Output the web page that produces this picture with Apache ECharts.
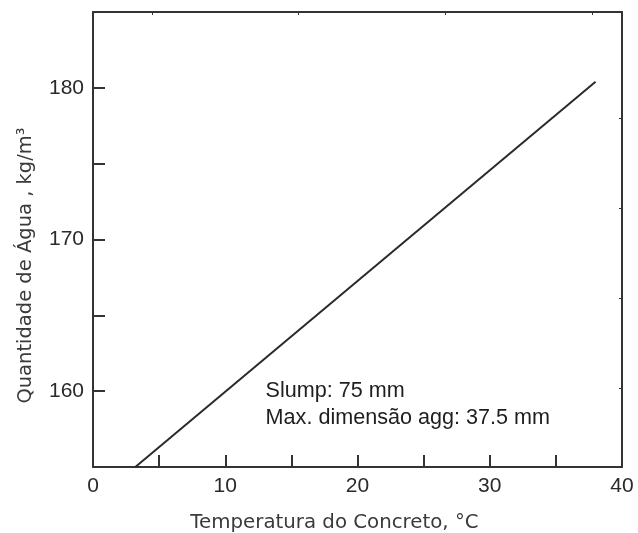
<!DOCTYPE html>
<html>
<head>
<meta charset="utf-8">
<script src="https://cdn.jsdelivr.net/npm/echarts@6/dist/echarts.min.js"></script>
<style>html,body{margin:0;padding:0;background:#fff;}#c{width:638px;height:533px;}</style>
</head>
<body>
<div id="c"></div>
<script>
// Data
const temperatureC = [3.2, 38.0];
const waterKgM3 = [155, 180.4];
const xTickLabels = [0, 10, 20, 30, 40];
const yTickLabels = [160, 170, 180];
const topTicksF = [40, 60, 80, 100];       // secondary (°F) ticks on top axis
const rightTicksLb = [270, 280, 290, 300]; // secondary (lb/yd³) ticks on right axis
const noteLines = ['Slump: 75 mm', 'Max. dimensão agg: 37.5 mm'];
const notePos = [13.05, 159.1];
const xTitle = 'Temperatura do Concreto, °C';
const yTitle = 'Quantidade de Água , kg/m³';

const xMin = 0, xMax = 40, yMin = 155, yMax = 185;
const c2f = c => c * 9 / 5 + 32;
const kg2lb = k => k * 1.6856;

const chart = echarts.init(document.getElementById('c'), null, {renderer: 'canvas'});
const axisColor = '#333';
const labelFont = {fontFamily: 'Liberation Sans, Arial, sans-serif', fontSize: 21, color: '#2a2a2a'};

chart.setOption({
  backgroundColor: '#fff',
  animation: false,
  grid: {left: 93, right: 16, top: 12, bottom: 66, containLabel: false, outerBoundsMode: 'none'},
  xAxis: [{
    type: 'value', min: xMin, max: xMax, interval: 5, position: 'bottom',
    axisLine: {show: true, lineStyle: {color: axisColor, width: 2}},
    axisTick: {show: true, inside: true, length: 12, lineStyle: {color: axisColor, width: 2}},
    splitLine: {show: false},
    axisLabel: Object.assign({
      margin: 9,
      formatter: v => xTickLabels.indexOf(v) >= 0 ? String(v) : ''
    }, labelFont),
    name: xTitle, nameLocation: 'middle', nameGap: 46,
    nameTextStyle: {fontFamily: 'DejaVu Sans, sans-serif', fontSize: 19.8, color: '#3a3a3a', padding: [0, 46, 0, 0]}
  }, {
    type: 'value', min: c2f(xMin), max: c2f(xMax), position: 'top',
    axisLine: {show: true, onZero: false, lineStyle: {color: axisColor, width: 2}},
    axisTick: {show: true, inside: true, length: 3, customValues: topTicksF, lineStyle: {color: axisColor, width: 1}},
    axisLabel: {show: false}, splitLine: {show: false}
  }],
  yAxis: [{
    type: 'value', min: yMin, max: yMax, interval: 5, position: 'left',
    axisLine: {show: true, lineStyle: {color: axisColor, width: 2}},
    axisTick: {show: true, inside: true, length: 12, lineStyle: {color: axisColor, width: 2}},
    splitLine: {show: false},
    axisLabel: Object.assign({
      margin: 9,
      formatter: v => yTickLabels.indexOf(v) >= 0 ? String(v) : ''
    }, labelFont),
    name: yTitle, nameLocation: 'middle', nameGap: 57,
    nameTextStyle: {fontFamily: 'DejaVu Sans, sans-serif', fontSize: 19.5, color: '#3a3a3a', padding: [0, 52, 0, 0]}
  }, {
    type: 'value', min: kg2lb(yMin), max: kg2lb(yMax), position: 'right',
    axisLine: {show: true, onZero: false, lineStyle: {color: axisColor, width: 2}},
    axisTick: {show: true, inside: true, length: 3, customValues: rightTicksLb, lineStyle: {color: axisColor, width: 1}},
    axisLabel: {show: false}, splitLine: {show: false}
  }],
  series: [{
    type: 'line', xAxisIndex: 0, yAxisIndex: 0,
    data: temperatureC.map((t, i) => [t, waterKgM3[i]]),
    showSymbol: false, symbol: 'none',
    lineStyle: {color: '#2a2a2a', width: 2},
    silent: true, z: 3
  }, {
    type: 'scatter', xAxisIndex: 0, yAxisIndex: 0,
    data: [notePos], symbolSize: 0, silent: true,
    label: {
      show: true, position: 'right', distance: 0,
      formatter: () => noteLines.join('\n'),
      fontFamily: 'Liberation Sans, Arial, sans-serif', fontSize: 21.6, lineHeight: 27,
      color: '#1e1e1e', opacity: 1, align: 'left', verticalAlign: 'middle'
    }
  }]
});
</script>
</body>
</html>
